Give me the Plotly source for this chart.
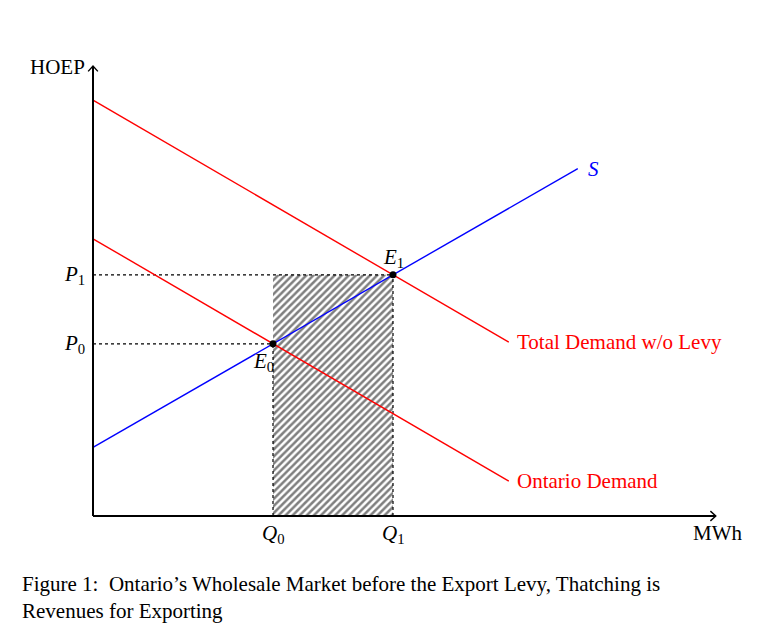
import plotly.graph_objects as go

# curve endpoints (x in MWh units, y in HOEP units)
supply_x = [0, 8.08]
supply_y = [1.145, 5.79]
total_demand_x = [0, 6.93]
total_demand_y = [6.93, 2.897]
ontario_demand_x = [0, 6.93]
ontario_demand_y = [4.62, 0.58]

# equilibria
eq_names = ["E0", "E1"]
eq_x = [3, 5]
eq_y = [2.87, 4.02]

x_axis_end = 10.38
y_axis_end = 7.5

caption_lines = [
    "Figure 1:  Ontario\u2019s Wholesale Market before the Export Levy, Thatching is",
    "Revenues for Exporting",
]

FONT = "Liberation Serif"
RED = "#ff0000"
BLUE = "#0000ff"
fs = 21

# the page body adds an 8px offset, so place the origin at (85, 508) inside the figure
ox, oy, unit = 85, 508, 60

fig = go.Figure()

# hatched export revenue area
fig.add_trace(go.Scatter(
    x=[eq_x[0], eq_x[1], eq_x[1], eq_x[0], eq_x[0]],
    y=[0, 0, eq_y[1], eq_y[1], 0],
    mode="lines", line=dict(width=0), fill="toself",
    fillcolor="white",
    fillpattern=dict(shape="/", fgcolor="black", bgcolor="white",
                     size=5, solidity=0.5),
    hoverinfo="skip"))

# dotted guides
dot = dict(color="black", width=1.2, dash="dot")
fig.add_trace(go.Scatter(x=[0, eq_x[1]], y=[eq_y[1], eq_y[1]], mode="lines", line=dot))
fig.add_trace(go.Scatter(x=[0, eq_x[0]], y=[eq_y[0], eq_y[0]], mode="lines", line=dot))
fig.add_trace(go.Scatter(x=[eq_x[1], eq_x[1]], y=[0, eq_y[1]], mode="lines", line=dot))
fig.add_trace(go.Scatter(x=[eq_x[0], eq_x[0]], y=[0, eq_y[0]], mode="lines", line=dot))

# curves
fig.add_trace(go.Scatter(x=total_demand_x, y=total_demand_y, mode="lines",
                         line=dict(color=RED, width=1.4)))
fig.add_trace(go.Scatter(x=ontario_demand_x, y=ontario_demand_y, mode="lines",
                         line=dict(color=RED, width=1.4)))
fig.add_trace(go.Scatter(x=supply_x, y=supply_y, mode="lines",
                         line=dict(color=BLUE, width=1.4)))

# axes
ax = dict(color="black", width=2)
fig.add_trace(go.Scatter(x=[0, x_axis_end], y=[0, 0], mode="lines", line=ax))
fig.add_trace(go.Scatter(x=[0, 0], y=[0, y_axis_end], mode="lines", line=ax))
# open arrow tips
h = 0.09
fig.add_trace(go.Scatter(x=[x_axis_end - h, x_axis_end, x_axis_end - h],
                         y=[h * 0.9, 0, -h * 0.9], mode="lines",
                         line=dict(color="black", width=1.4)))
fig.add_trace(go.Scatter(x=[-h * 0.9, 0, h * 0.9],
                         y=[y_axis_end - h, y_axis_end, y_axis_end - h], mode="lines",
                         line=dict(color="black", width=1.4)))

# equilibrium points
fig.add_trace(go.Scatter(x=eq_x, y=eq_y, mode="markers",
                         marker=dict(color="black", size=7)))

annotations = [
    dict(x=0, y=y_axis_end, text="HOEP", xanchor="right", yanchor="middle",
         xshift=-6, yshift=-1),
    dict(x=x_axis_end, y=0, text="MWh", xanchor="center", yanchor="top",
         xshift=2, yshift=-3),
    dict(x=0, y=eq_y[1], text="<i>P</i><sub>1</sub>", xanchor="right",
         yanchor="middle", xshift=-6),
    dict(x=0, y=eq_y[0], text="<i>P</i><sub>0</sub>", xanchor="right",
         yanchor="middle", xshift=-6),
    dict(x=eq_x[0], y=0, text="<i>Q</i><sub>0</sub>", xanchor="center",
         yanchor="top", yshift=-3),
    dict(x=eq_x[1], y=0, text="<i>Q</i><sub>1</sub>", xanchor="center",
         yanchor="top", yshift=-3),
    dict(x=eq_x[1], y=eq_y[1], text="<i>E</i><sub>1</sub>", xanchor="center",
         yanchor="middle", yshift=17),
    dict(x=eq_x[0], y=eq_y[0], text="<i>E</i><sub>0</sub>", xanchor="center",
         yanchor="middle", xshift=-10, yshift=-18),
    dict(x=supply_x[1], y=supply_y[1], text="<i>S</i>", xanchor="left",
         yanchor="middle", xshift=8, font=dict(color=BLUE, size=fs, family=FONT)),
    dict(x=total_demand_x[1], y=total_demand_y[1], text="Total Demand w/o Levy",
         xanchor="left", yanchor="middle", xshift=6,
         font=dict(color=RED, size=fs, family=FONT)),
    dict(x=ontario_demand_x[1], y=ontario_demand_y[1], text="Ontario Demand",
         xanchor="left", yanchor="middle", xshift=6,
         font=dict(color=RED, size=fs, family=FONT)),
]
for a in annotations:
    a.setdefault("font", dict(color="black", size=fs, family=FONT))
    a["showarrow"] = False
    a["xref"] = "x"
    a["yref"] = "y"
    fig.add_annotation(**a)

# caption below the figure
fig.add_annotation(
    x=12 / 769, y=1 - 589 / 631, xref="paper", yref="paper", showarrow=False,
    text="<br>".join(caption_lines), xanchor="left", yanchor="middle", align="left",
    font=dict(color="black", size=21, family=FONT))

fig.update_layout(
    width=769, height=631,
    margin=dict(l=0, r=0, t=0, b=0),
    paper_bgcolor="white", plot_bgcolor="white",
    showlegend=False,
    xaxis=dict(range=[-ox / unit, (769 - ox) / unit], visible=False, fixedrange=True),
    yaxis=dict(range=[-(631 - oy) / unit, oy / unit], visible=False, fixedrange=True),
)

fig.write_html("out.html")
